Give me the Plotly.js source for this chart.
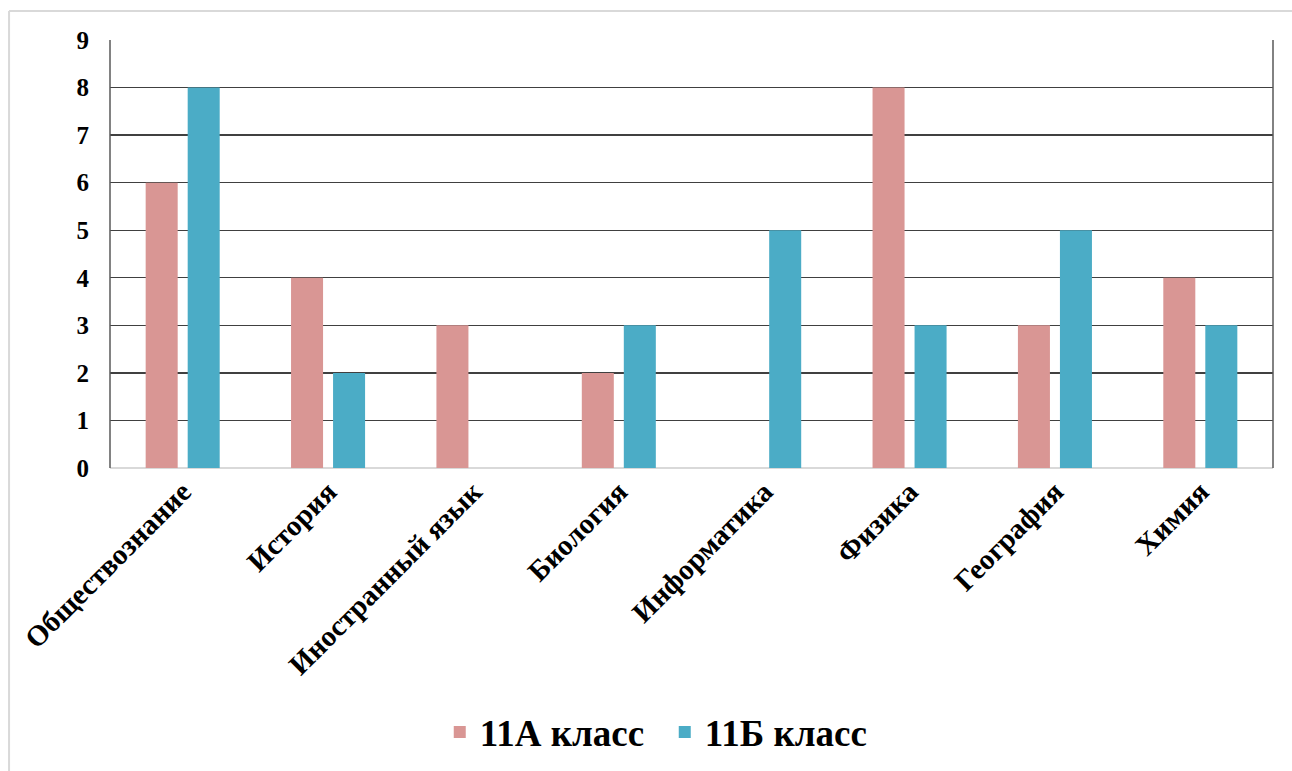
<!DOCTYPE html>
<html>
<head>
<meta charset="utf-8">
<script src="https://cdn.plot.ly/plotly-3.0.1.min.js"></script>
<style>html,body{margin:0;padding:0;background:#fff;}#chart{width:1292px;height:771px;}</style>
</head>
<body>
<div id="chart"></div>
<script>
const categories = ["Обществознание", "История", "Иностранный язык", "Биология", "Информатика", "Физика", "География", "Химия"];
const series11A = [6, 4, 3, 2, 0, 8, 3, 4];
const series11B = [8, 2, 0, 3, 5, 3, 5, 3];
const seriesNames = ["11А класс", "11Б класс"];
const yTicks = [0, 1, 2, 3, 4, 5, 6, 7, 8, 9];

const serif = "Liberation Serif, Times New Roman, serif";

const traces = [
  {type: "bar", name: seriesNames[0], x: categories, y: series11A,
   marker: {color: "#D99694", line: {width: 0}}},
  {type: "bar", name: seriesNames[1], x: categories, y: series11B,
   marker: {color: "#4BACC6", line: {width: 0}}}
];

const layout = {
  width: 1292, height: 771,
  margin: {l: 110, r: 19, t: 40, b: 303, autoexpand: false},
  paper_bgcolor: "#ffffff", plot_bgcolor: "#ffffff",
  barmode: "group", bargap: 0.422, bargroupgap: 0.238,
  font: {family: serif, color: "#000"},
  showlegend: true,
  legend: {orientation: "h", x: 0.477, xanchor: "center", yref: "container", y: 0.05, yanchor: "middle",
           font: {family: serif, size: 37, color: "#000", weight: "bold"},
           itemwidth: 30, entrywidth: 180, itemsizing: "constant", traceorder: "normal"},
  xaxis: {type: "category", tickangle: -45, showgrid: false, zeroline: false,
          showline: false, ticks: "", automargin: false,
          tickfont: {family: serif, size: 29, color: "#000", weight: "bold"}},
  yaxis: {range: [0, 9], tickvals: yTicks, ticktext: yTicks.map(String),
          showgrid: true, gridcolor: "#404040", gridwidth: 1.3,
          zeroline: true, zerolinecolor: "#d9d9d9", zerolinewidth: 1.5,
          showline: false, ticks: "", ticklabelstandoff: 20, automargin: false,
          tickfont: {family: serif, size: 25, color: "#000", weight: "bold"}},
  shapes: [
    {type: "line", xref: "paper", yref: "paper", x0: 0, x1: 0, y0: 0, y1: 1,
     line: {color: "#595959", width: 1.5}},
    {type: "line", xref: "paper", yref: "paper", x0: 1, x1: 1, y0: 0, y1: 1,
     line: {color: "#595959", width: 1.5}},
    {type: "line", xref: "paper", yref: "paper", x0: -0.0868, x1: 1.2, y0: 1.0678, y1: 1.0678,
     line: {color: "#d9d9d9", width: 2}},
    {type: "line", xref: "paper", yref: "paper", x0: -0.0868, x1: -0.0868, y0: 1.0678, y1: -1,
     line: {color: "#d9d9d9", width: 2}}
  ]
};

Plotly.newPlot("chart", traces, layout, {displayModeBar: false, staticPlot: true});
</script>
</body>
</html>
